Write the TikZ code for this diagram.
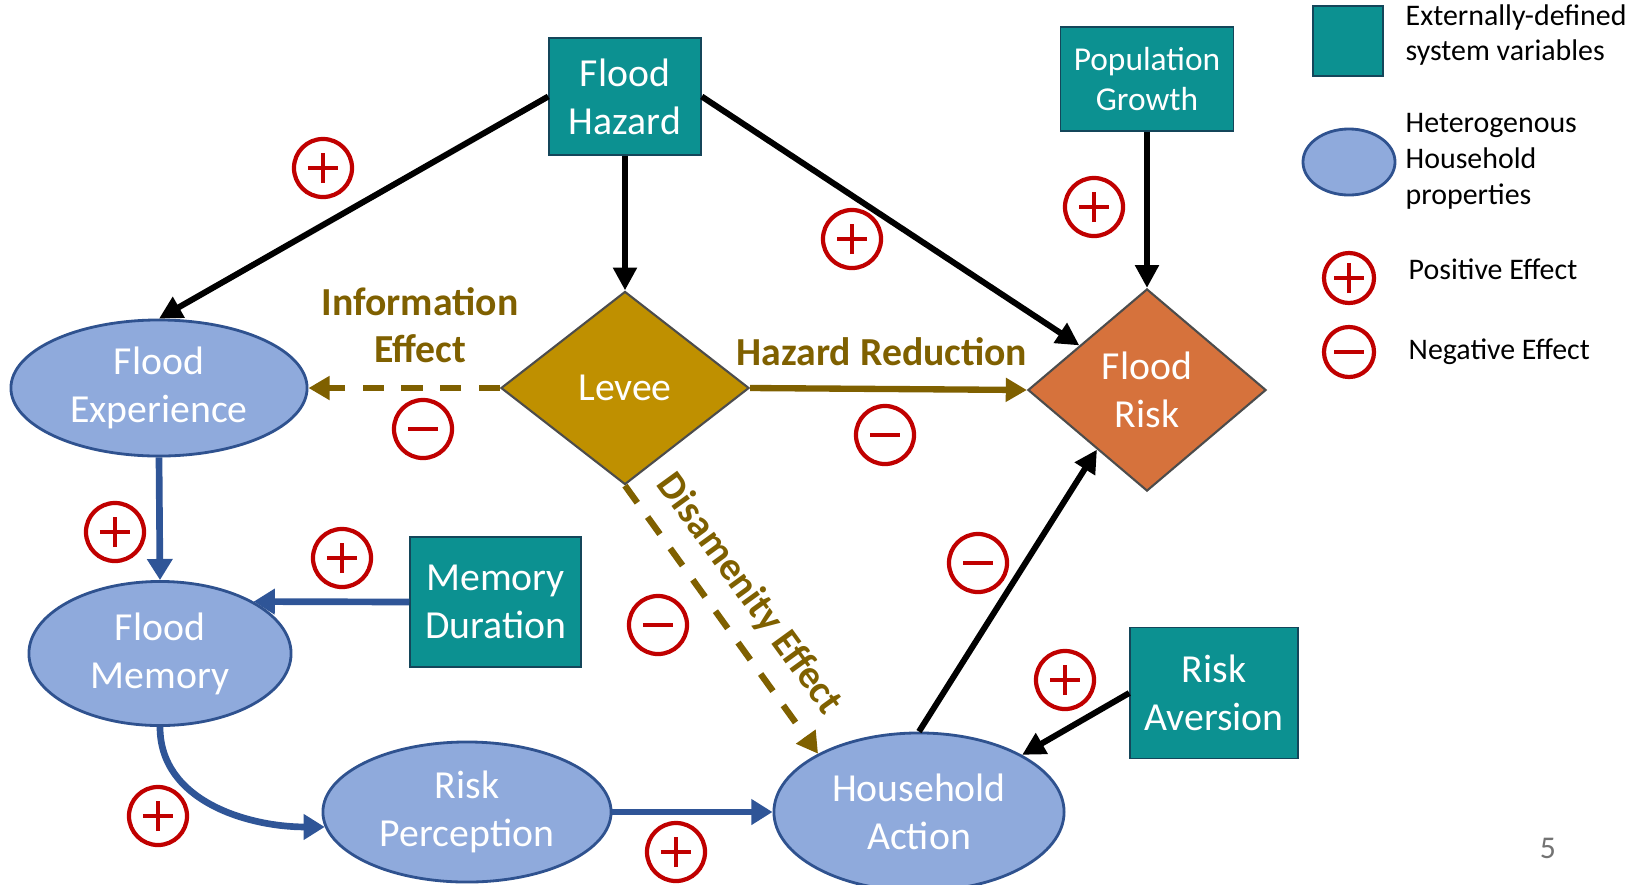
\documentclass[tikz,border=0pt]{standalone}
\usepackage{fontspec}
\setmainfont{Carlito}
\usepackage{xcolor}
\usepackage{tikz}
\usetikzlibrary{positioning, arrows.meta, shapes.geometric}

\definecolor{extfill}{RGB}{12,145,145}
\definecolor{extline}{RGB}{20,70,90}
\definecolor{hhfill}{RGB}{143,170,220}
\definecolor{hhline}{RGB}{47,82,143}
\definecolor{hharrow}{RGB}{47,85,151}
\definecolor{levfill}{RGB}{191,144,0}
\definecolor{levtxt}{RGB}{127,96,0}
\definecolor{riskfill}{RGB}{214,114,60}
\definecolor{sgnred}{RGB}{192,0,0}

\begin{document}
\begin{tikzpicture}[
    x=0.01cm, y=-0.01cm,
    ext/.style={rectangle, draw=extline, fill=extfill, text=white, align=center, inner sep=0pt, font=\fontsize{11.3}{13.7}\selectfont},
    hh/.style={ellipse, draw=hhline, line width=0.8pt, fill=hhfill, text=white, align=center, inner sep=0pt, font=\fontsize{11.3}{13.7}\selectfont},
    dia/.style={diamond, draw=black!70, line width=0.6pt, text=white, align=center, inner sep=0pt, font=\fontsize{11.3}{13.7}\selectfont},
    lbl/.style={text=levtxt, align=center, font=\bfseries\fontsize{11.3}{13.2}\selectfont},
    key/.style={anchor=west, align=left, inner sep=0pt, font=\fontsize{8.5}{10.2}\selectfont},
    sgn/.style={circle, draw=sgnred, line width=1.2pt, minimum size=0.58cm, inner sep=0pt},
    plus/.style={sgn, path picture={\draw[sgnred, line width=1.4pt] (path picture bounding box.center) +(-0.15cm,0cm) -- +(0.15cm,0cm) +(0cm,-0.15cm) -- +(0cm,0.15cm);}},
    minus/.style={sgn, path picture={\draw[sgnred, line width=1.4pt] (path picture bounding box.center) +(-0.15cm,0cm) -- +(0.15cm,0cm);}},
    arr/.style={-{Triangle[length=6.5pt,width=6.5pt]}, line width=1.7pt},
    barr/.style={-{Triangle[length=6pt,width=7pt]}, line width=1.9pt, draw=hharrow},
    larr/.style={-{Triangle[length=6pt,width=6.5pt]}, line width=1.8pt, draw=levtxt},
    ldash/.style={larr, dash pattern=on 6pt off 5pt}
]
\clip (0,0) rectangle (1645,884);

% external variables
\node[ext, minimum width=1.52cm, minimum height=1.17cm] (haz) at (625, 96.5) {Flood\\Hazard};
\node[ext, minimum width=1.73cm, minimum height=1.04cm, font=\fontsize{9.5}{11.6}\selectfont] (pop) at (1147, 79) {Population\\Growth};
\node[ext, minimum width=1.71cm, minimum height=1.30cm] (dur) at (495.5, 602) {Memory\\Duration};
\node[ext, minimum width=1.68cm, minimum height=1.31cm] (avr) at (1214, 693) {Risk\\Aversion};

% household properties
\node[hh, minimum width=2.96cm, minimum height=1.36cm] (exp) at (159, 388) {Flood\\Experience};
\node[hh, minimum width=2.62cm, minimum height=1.44cm] (mem) at (160, 653.5) {Flood\\Memory};
\node[hh, minimum width=2.88cm, minimum height=1.40cm] (per) at (467, 812) {Risk\\Perception};
\node[hh, minimum width=2.90cm, minimum height=1.58cm] (act) at (919, 812) {Household\\Action};

\node[dia, fill=levfill, minimum width=2.48cm, minimum height=1.93cm] (lev) at (625, 388) {Levee};
\node[dia, fill=riskfill, minimum width=2.38cm, minimum height=2.02cm] (risk) at (1147, 390) {Flood\\Risk};

% links
\draw[arr] (haz.west) -- (exp.north);
\draw[arr] (haz.south) -- (lev.north);
\draw[arr] (haz.east) -- (risk);
\draw[arr] (pop.south) -- (risk.north);
\draw[arr] (act.north) -- (risk.230);
\draw[arr] (avr.west) -- (act.29);

\draw[ldash] (lev.west) -- (exp.east);
\draw[larr] (lev.east) -- (risk.west);
\draw[ldash] (lev.south) -- (act.150);

\draw[barr] (exp.south) -- (mem.north);
\draw[barr] (dur.west) -- (mem.north east);
\draw[barr] (mem.south) .. controls +(0,75) and +(-75,0) .. (per.186);
\draw[barr] (per.east) -- (act.west);

\node[lbl] (infotxt) at (420, 325) {Information\\Effect};
\node[lbl] (haztxt) at (882, 352) {Hazard Reduction};
\node[lbl, rotate=-54] (distxt) at (749, 594) {Disamenity Effect};

% signs
\node[plus] (p1) at (323, 168) {};
\node[plus] (p2) at (852, 239) {};
\node[plus] (p3) at (1094, 207) {};
\node[plus] (p4) at (115, 532) {};
\node[plus] (p5) at (342, 558) {};
\node[plus] (p6) at (1065, 680) {};
\node[plus] (p7) at (158, 816) {};
\node[plus] (p8) at (676, 852) {};
\node[minus] (m1) at (423, 429) {};
\node[minus] (m2) at (885, 435) {};
\node[minus] (m3) at (658, 625) {};
\node[minus] (m4) at (978, 563) {};

% legend
\node[ext, minimum width=0.70cm, minimum height=0.70cm] (keyext) at (1348, 41) {};
\node[hh, minimum width=0.92cm, minimum height=0.66cm] (keyhh) at (1349, 162) {};
\node[plus, minimum size=0.5cm] (keyplus) at (1349, 278) {};
\node[minus, minimum size=0.5cm] (keyminus) at (1349, 352) {};
\node[key] (keyexttxt) at (1405, 35) {Externally-defined\\system variables};
\node[key] (keyhhtxt) at (1405, 161) {Heterogenous\\Household\\properties};
\node[key] (keyplustxt) at (1408, 269) {Positive Effect};
\node[key] (keyminustxt) at (1408, 352) {Negative Effect};

\node[text=black!55, font=\fontsize{9}{10}\selectfont] (pgno) at (1548, 848) {5};

\end{tikzpicture}
\end{document}
